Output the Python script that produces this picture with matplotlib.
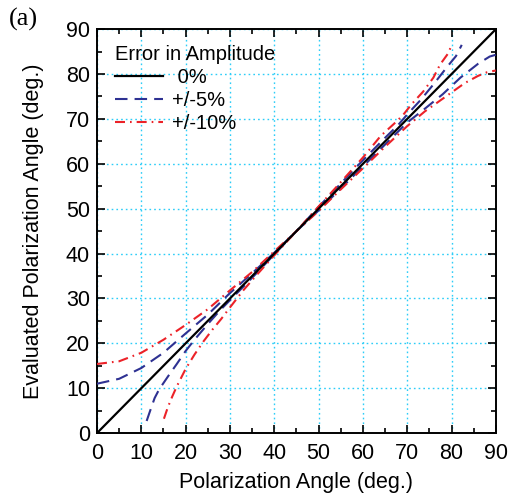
import matplotlib
matplotlib.use("Agg")
import matplotlib.pyplot as plt
from matplotlib.ticker import MultipleLocator

plt.rcParams['font.family'] = ['Liberation Sans', 'DejaVu Sans']

# ---- data ----
x_ideal = [0, 90]
y_ideal = [0, 90]

# +/-5% : compressed branch (above diagonal at low angles)
x_b1 = [0, 5, 10, 15, 20, 25, 30, 35, 40, 45, 50, 55, 60, 65, 70, 74, 78, 82, 86, 88.6, 90]
y_b1 = [11.0, 12.1, 14.5, 17.9, 22.2, 26.4, 31.2, 35.6, 40.2, 45.0, 49.6, 54.5, 59.4, 64.3, 69.2, 72.3, 75.5, 79.2, 82.3, 83.9, 84.3]
# +/-5% : expanded branch
x_b2 = [11.2, 12, 13, 14, 16, 18, 20, 22, 25, 28, 30, 35, 40, 45, 50, 55, 60, 65, 68, 70, 73, 76, 79, 81, 82.3]
y_b2 = [2.7, 5.0, 7.8, 9.7, 12.6, 15.4, 18.3, 20.8, 24.3, 27.6, 29.6, 34.6, 39.8, 45.0, 50.4, 55.6, 60.8, 65.8, 68.7, 71.0, 74.2, 77.8, 81.6, 84.0, 86.5]

# +/-10% : compressed branch
x_r1 = [0, 5, 10, 15, 20, 25, 30, 35, 40, 45, 50, 55, 60, 65, 70, 74, 77, 80, 83, 86, 88, 90]
y_r1 = [15.4, 16.0, 17.9, 20.8, 24.1, 27.6, 31.8, 35.9, 40.5, 45.0, 49.5, 54.3, 59.0, 63.8, 68.4, 71.7, 73.8, 75.9, 78.0, 79.6, 80.4, 80.8]
# +/-10% : expanded branch
x_r2 = [15.1, 16, 17, 18, 20, 22, 24, 26, 28, 30, 33, 36, 40, 45, 50, 55, 60, 64, 67, 69, 71, 73.6, 75.9, 77.4, 79.3, 80]
y_r2 = [3.2, 5.8, 8.2, 10.4, 14.3, 17.5, 20.4, 23.0, 25.4, 28.0, 31.8, 35.2, 39.6, 45.0, 50.5, 55.9, 61.4, 66.2, 68.9, 70.8, 73.3, 76.1, 79.2, 82.1, 84.7, 86.5]

legend_title = "Error in Amplitude"
labels = [" 0%", "+/-5%", "+/-10%"]
ticks = [0, 10, 20, 30, 40, 50, 60, 70, 80, 90]

# ---- figure ----
fig = plt.figure(figsize=(5.16, 5.03), dpi=100)
ax = fig.add_axes([0.188, 0.139, 0.773, 0.803])

blue = '#2e3192'
red = '#ec2228'
ax.plot(x_ideal, y_ideal, color='black', lw=1.6, label=labels[0], zorder=5)
ax.plot(x_b1, y_b1, color=blue, lw=1.5, linestyle=(0, (6, 3.4)), label=labels[1], zorder=3)
ax.plot(x_b2, y_b2, color=blue, lw=1.5, linestyle=(0, (6, 3.4)), zorder=3)
ax.plot(x_r1, y_r1, color=red, lw=1.5, linestyle=(0, (4.8, 2.4, 0.8, 2.4)), label=labels[2], zorder=4)
ax.plot(x_r2, y_r2, color=red, lw=1.5, linestyle=(0, (4.8, 2.4, 0.8, 2.4)), zorder=4)

ax.set_xlim(0, 90)
ax.set_ylim(0, 90)
ax.set_xticks(ticks)
ax.set_yticks(ticks)
ax.xaxis.set_minor_locator(MultipleLocator(5))
ax.yaxis.set_minor_locator(MultipleLocator(5))
ax.tick_params(which='both', direction='in', top=True, right=True, width=1.2)
ax.tick_params(which='major', length=6, labelsize=15.5)
ax.tick_params(which='minor', length=3.5)
ax.tick_params(axis='x', which='major', pad=7)
ax.tick_params(axis='y', which='major', pad=5)
for s in ax.spines.values():
    s.set_linewidth(1.4)

ax.grid(True, which='major', color='#2ccdf8', linestyle=(0, (1.2, 2.2)), linewidth=1.0)
ax.set_axisbelow(True)

ax.set_xlabel("Polarization Angle (deg.)", fontsize=15.5, labelpad=6)
ax.set_ylabel("Evaluated Polarization Angle (deg.)", fontsize=15.5, labelpad=16)

leg = ax.legend(title=legend_title, loc='upper left', bbox_to_anchor=(0.0, 1.005),
                frameon=False, fontsize=14.5, title_fontsize=14.5, handlelength=2.4,
                handletextpad=0.4, labelspacing=0.2, alignment='left',
                borderaxespad=0.5)

fig.text(0.018, 0.962, "(a)", fontsize=19, family=['Liberation Serif', 'DejaVu Serif'],
         va='center', ha='left')

fig.savefig("out.png", dpi=100)
